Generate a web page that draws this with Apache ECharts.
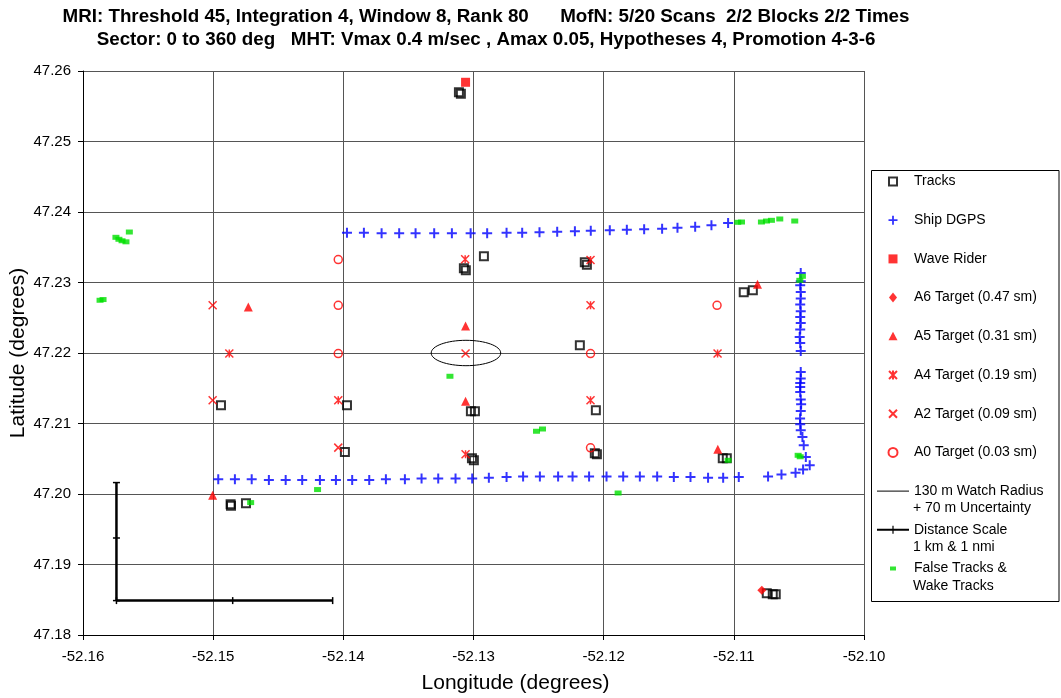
<!DOCTYPE html>
<html><head><meta charset="utf-8">
<script src="https://cdn.jsdelivr.net/npm/echarts@6/dist/echarts.min.js"></script>
<style>html,body{margin:0;padding:0;background:#fff}#c{width:1061px;height:698px}</style>
</head><body><div id="c"></div>
<script>
const titleLine1 = 'MRI: Threshold 45, Integration 4, Window 8, Rank 80      MofN: 5/20 Scans  2/2 Blocks 2/2 Times';
const titleLine2 = 'Sector: 0 to 360 deg   MHT: Vmax 0.4 m/sec , Amax 0.05, Hypotheses 4, Promotion 4-3-6';
const xAxisName = 'Longitude (degrees)';
const yAxisName = 'Latitude (degrees)';
const lonRange = [-52.16, -52.10, 0.01];
const latRange = [47.18, 47.26, 0.01];

const tracks = [
  [-52.13112,47.25698],[-52.13097,47.25677],[-52.1292,47.23372],[-52.13074,47.23201],[-52.13059,47.23173],
  [-52.12145,47.23287],[-52.12129,47.23251],[-52.10924,47.22861],[-52.10854,47.2289],[-52.12183,47.22109],
  [-52.1494,47.21258],[-52.13972,47.21258],[-52.1302,47.21173],[-52.12989,47.21173],[-52.1206,47.21187],
  [-52.13988,47.20596],[-52.13012,47.20506],[-52.12997,47.20478],[-52.12068,47.20577],[-52.12052,47.20563],
  [-52.11085,47.20506],[-52.11054,47.20506],[-52.14866,47.19854],[-52.14863,47.19833],[-52.14748,47.19868],
  [-52.10747,47.18592],[-52.10701,47.18577],[-52.10678,47.18577]
];
const shipDGPS = [
  [-52.13972,47.23705],[-52.13842,47.23705],[-52.13706,47.23698],[-52.13571,47.23698],[-52.13445,47.23698],
  [-52.13302,47.23698],[-52.13166,47.23698],[-52.13022,47.23698],[-52.12895,47.23698],[-52.12746,47.23705],
  [-52.12626,47.23705],[-52.12493,47.23712],[-52.12357,47.23719],[-52.12221,47.23726],[-52.12099,47.23733],
  [-52.11953,47.2374],[-52.11822,47.23747],[-52.11689,47.23755],[-52.11551,47.23762],[-52.11433,47.23776],
  [-52.11297,47.2379],[-52.11172,47.23811],[-52.11044,47.23844],
  [-52.10486,47.23135],[-52.10486,47.23017],[-52.1049,47.2296],[-52.10486,47.22865],[-52.10486,47.22772],
  [-52.1049,47.22687],[-52.10486,47.22592],[-52.1049,47.22511],[-52.10486,47.22426],[-52.1049,47.22332],
  [-52.10494,47.22227],[-52.1049,47.22142],[-52.10486,47.22028],
  [-52.10486,47.21731],[-52.10486,47.21637],[-52.1049,47.21575],[-52.1049,47.21518],[-52.1049,47.21447],
  [-52.10486,47.21339],[-52.10483,47.21272],[-52.10486,47.21177],[-52.10491,47.2107],[-52.1049,47.20989],
  [-52.10486,47.20904],[-52.10473,47.20809],[-52.10463,47.20691],[-52.10447,47.20525],[-52.10417,47.20407],
  [-52.10468,47.20346],
  [-52.10526,47.2030],[-52.10634,47.20275],[-52.10737,47.2025],[-52.10962,47.2024],[-52.11082,47.2023],
  [-52.11198,47.2023],[-52.11333,47.2024],[-52.11461,47.2024],[-52.11589,47.2025],[-52.11722,47.2025],
  [-52.1185,47.2025],[-52.11978,47.2025],[-52.12112,47.2025],[-52.12239,47.2025],[-52.1235,47.2025],
  [-52.1249,47.2025],[-52.12619,47.2025],[-52.12746,47.2024],[-52.12882,47.2023],[-52.1301,47.2022],
  [-52.13138,47.2022],[-52.13271,47.2022],[-52.13399,47.2022],[-52.13527,47.2021],[-52.13673,47.2021],
  [-52.13801,47.2020],[-52.13932,47.2020],[-52.14057,47.2020],[-52.1418,47.2020],[-52.14316,47.2020],
  [-52.14443,47.2020],[-52.14572,47.2020],[-52.14704,47.2021],[-52.14833,47.2021],[-52.14961,47.2021]
];
const waveRider = [[-52.13061,47.2584]];
const a6Target = [[-52.10785,47.18634]];
const a5Target = [[-52.1473,47.22653],[-52.13061,47.22383],[-52.13061,47.21315],[-52.10818,47.22975],[-52.11123,47.20634],[-52.15004,47.19982]];
const a4Target = [[-52.14876,47.21992],[-52.11125,47.21992],[-52.12101,47.22677],[-52.12101,47.21329],[-52.13061,47.20563],[-52.13064,47.23329],[-52.12101,47.2332],[-52.14039,47.21329]];
const a2Target = [[-52.15004,47.22677],[-52.13061,47.21992],[-52.14039,47.20658],[-52.15004,47.21329]];
const a0Target = [[-52.14039,47.23325],[-52.14039,47.22677],[-52.14039,47.21992],[-52.12101,47.21992],[-52.11129,47.22677],[-52.12101,47.20655]];
const watchCenter = [[-52.13058,47.2200]];
const watchRadiusLon = 0.00267;
const watchRadiusLat = 0.0018;
const scaleVertical = [[-52.15743,47.20162],[-52.15743,47.19376],[-52.15743,47.18488]];
const scaleHorizontal = [[-52.15743,47.18488],[-52.1485,47.18488],[-52.14082,47.18488]];
const falseTracks = [
  [-52.15747,47.23641],[-52.15724,47.23613],[-52.157,47.23592],[-52.1567,47.23577],[-52.15644,47.23716],
  [-52.15869,47.22748],[-52.15846,47.22758],[-52.13181,47.2167],[-52.12516,47.2089],[-52.1247,47.20922],
  [-52.14198,47.20063],[-52.14712,47.19878],[-52.11889,47.20014],[-52.11044,47.20478],[-52.10506,47.20549],
  [-52.1049,47.20528],[-52.10493,47.23031],[-52.10473,47.23088],[-52.1097,47.23854],[-52.10941,47.23858],
  [-52.10788,47.23858],[-52.10749,47.23872],[-52.10711,47.23882],[-52.10647,47.23901],[-52.10532,47.23872]
];
const legendSecondLines = ['+ 70 m Uncertainty', '1 km & 1 nmi', 'Wake Tracks'];

const FONT = "'Liberation Sans', Arial, sans-serif";
const RED = '#ff0000';
const chart = echarts.init(document.getElementById('c'), null, {renderer: 'canvas'});
const plusPath = 'path://M4,0 L6,0 L6,4 L10,4 L10,6 L6,6 L6,10 L4,10 L4,6 L0,6 L0,4 L4,4 Z';
const starPath = 'path://M0,0 L10,10 M10,0 L0,10 M5,0 L5,10';
const xPath = 'path://M0,0 L10,10 M10,0 L0,10';
// legend icons: invisible 32x10 frame (move-to points) so each mark keeps its own size
const F = 'path://M0,0 M32,10 ';
const icons = {
  tracks: F + 'M12,1 L20,1 L20,9 L12,9 Z',
  ship: F + 'M15.1,0.5 L16.9,0.5 L16.9,4.1 L20.5,4.1 L20.5,5.9 L16.9,5.9 L16.9,9.5 L15.1,9.5 L15.1,5.9 L11.5,5.9 L11.5,4.1 L15.1,4.1 Z',
  wave: F + 'M11.5,0.5 L20.5,0.5 L20.5,9.5 L11.5,9.5 Z',
  diamond: F + 'M16,0 L20,5 L16,10 L12,5 Z',
  triangle: F + 'M16,0.5 L20.5,9 L11.5,9 Z',
  star: F + 'M12,1 L20,9 M20,1 L12,9 M16,0.5 L16,9.5',
  cross: F + 'M12,1 L20,9 M20,1 L12,9',
  circle: F + 'M20.5,5 A4.5,4.5 0 1 1 11.5,5 A4.5,4.5 0 1 1 20.5,5 Z',
  line: F + 'M0,4.5 L32,4.5 L32,5.5 L0,5.5 Z',
  scale: F + 'M0,4 L32,4 L32,6 L0,6 Z M15.4,1 L16.6,1 L16.6,9 L15.4,9 Z',
  green: F + 'M13,3 L19,3 L19,7 L13,7 Z'
};

const option = {
  animation: false,
  backgroundColor: '#fff',
  title: {
    text: titleLine1 + '\n' + titleLine2,
    left: 481, top: 0, textAlign: 'center',
    textStyle: {fontFamily: FONT, fontWeight: 'bold', fontSize: 18.8, lineHeight: 23, color: '#000'}
  },
  grid: {left: 83, right: 197, top: 71, bottom: 63, containLabel: false, outerBoundsMode: 'none'},
  xAxis: {
    type: 'value', min: lonRange[0], max: lonRange[1], interval: lonRange[2],
    name: xAxisName, nameLocation: 'middle', nameGap: 38, nameMoveOverlap: false,
    nameTextStyle: {fontFamily: FONT, fontSize: 21, color: '#000', padding: [0, 0, 0, 84]},
    axisLine: {onZero: false, lineStyle: {color: '#000', width: 1}},
    axisTick: {show: true, length: 5, lineStyle: {color: '#000'}},
    axisLabel: {formatter: v => v.toFixed(2), fontFamily: FONT, fontSize: 15, color: '#000', margin: 14},
    splitLine: {show: true, lineStyle: {color: '#555', width: 1}}
  },
  yAxis: {
    type: 'value', min: latRange[0], max: latRange[1], interval: latRange[2],
    name: yAxisName, nameLocation: 'middle', nameGap: 54, nameRotate: 90, nameMoveOverlap: false,
    nameTextStyle: {fontFamily: FONT, fontSize: 21, color: '#000'},
    axisLine: {show: true, onZero: false, lineStyle: {color: '#000', width: 1}},
    axisTick: {show: true, length: 5, lineStyle: {color: '#000'}},
    axisLabel: {formatter: v => v.toFixed(2), fontFamily: FONT, fontSize: 15, color: '#000', margin: 12},
    splitLine: {show: true, lineStyle: {color: '#555', width: 1}}
  },
  legend: {
    orient: 'vertical', left: 876, top: 172, padding: 0,
    itemWidth: 32, itemHeight: 10, itemGap: 19.7, selectedMode: false,
    textStyle: {fontFamily: FONT, fontSize: 14, lineHeight: 19, color: '#000'},
    data: [
      {name: 'Tracks', icon: icons.tracks}, {name: 'Ship DGPS', icon: icons.ship}, {name: 'Wave Rider', icon: icons.wave},
      {name: 'A6 Target (0.47 sm)', icon: icons.diamond}, {name: 'A5 Target (0.31 sm)', icon: icons.triangle},
      {name: 'A4 Target (0.19 sm)', icon: icons.star}, {name: 'A2 Target (0.09 sm)', icon: icons.cross},
      {name: 'A0 Target (0.03 sm)', icon: icons.circle},
      {name: '130 m Watch Radius', icon: icons.line},
      {name: 'Distance Scale', icon: icons.scale},
      {name: 'False Tracks &', icon: icons.green}
    ]
  },
  graphic: [
    {type: 'rect', shape: {x: 871.5, y: 170.5, width: 187.5, height: 431}, style: {fill: 'none', stroke: '#000', lineWidth: 1}, z: 0, silent: true},
    {type: 'text', left: 913, top: 501.5, style: {text: legendSecondLines[0], font: "14px 'Liberation Sans', Arial, sans-serif", fill: '#000'}, silent: true},
    {type: 'text', left: 913, top: 540.5, style: {text: legendSecondLines[1], font: "14px 'Liberation Sans', Arial, sans-serif", fill: '#000'}, silent: true},
    {type: 'text', left: 913, top: 579.5, style: {text: legendSecondLines[2], font: "14px 'Liberation Sans', Arial, sans-serif", fill: '#000'}, silent: true}
  ],
  series: [
    {name: 'Ship DGPS', type: 'scatter', data: shipDGPS, symbol: plusPath, symbolSize: 10, itemStyle: {color: '#0000ff'}, silent: true, z: 2},
    {name: 'Tracks', type: 'scatter', data: tracks, symbol: 'rect', symbolSize: 8, itemStyle: {color: 'rgba(0,0,0,0)', borderColor: '#000', borderWidth: 2}, silent: true, z: 3},
    {name: 'Wave Rider', type: 'scatter', data: waveRider, symbol: 'rect', symbolSize: 9, itemStyle: {color: RED}, silent: true, z: 4},
    {name: 'A6 Target (0.47 sm)', type: 'scatter', data: a6Target, symbol: 'diamond', symbolSize: 9, itemStyle: {color: RED}, silent: true, z: 4},
    {name: 'A5 Target (0.31 sm)', type: 'scatter', data: a5Target, symbol: 'triangle', symbolSize: 9, itemStyle: {color: RED}, silent: true, z: 4},
    {name: 'A4 Target (0.19 sm)', type: 'scatter', data: a4Target, symbol: starPath, symbolSize: 8, itemStyle: {color: 'rgba(0,0,0,0)', borderColor: RED, borderWidth: 1.5}, silent: true, z: 4},
    {name: 'A2 Target (0.09 sm)', type: 'scatter', data: a2Target, symbol: xPath, symbolSize: 8, itemStyle: {color: 'rgba(0,0,0,0)', borderColor: RED, borderWidth: 1.5}, silent: true, z: 4},
    {name: 'A0 Target (0.03 sm)', type: 'scatter', data: a0Target, symbol: 'circle', symbolSize: 8, itemStyle: {color: 'rgba(0,0,0,0)', borderColor: RED, borderWidth: 1.5}, silent: true, z: 4},
    {name: '130 m Watch Radius', type: 'custom', data: watchCenter, itemStyle: {color: '#000'}, silent: true, z: 4,
      renderItem: function (params, api) {
        const c = api.coord([api.value(0), api.value(1)]);
        const e = api.coord([api.value(0) + watchRadiusLon, api.value(1) + watchRadiusLat]);
        return {type: 'ellipse', shape: {cx: c[0], cy: c[1], rx: Math.abs(e[0] - c[0]), ry: Math.abs(e[1] - c[1])},
          style: {fill: 'none', stroke: '#000', lineWidth: 1}};
      }},
    {name: 'Distance Scale', type: 'line', data: scaleVertical, symbol: 'rect', symbolSize: [7, 1.5], showSymbol: true,
      itemStyle: {color: '#000'}, lineStyle: {color: '#000', width: 2.5}, silent: true, z: 4},
    {name: 'Distance Scale', type: 'line', data: scaleHorizontal, symbol: 'rect', symbolSize: [1.5, 7], showSymbol: true,
      itemStyle: {color: '#000'}, lineStyle: {color: '#000', width: 2.5}, silent: true, z: 4},
    {name: 'False Tracks &', type: 'scatter', data: falseTracks, symbol: 'rect', symbolSize: [7, 5], itemStyle: {color: '#00e000'}, silent: true, z: 5}
  ]
};
chart.setOption(option);
</script></body></html>
